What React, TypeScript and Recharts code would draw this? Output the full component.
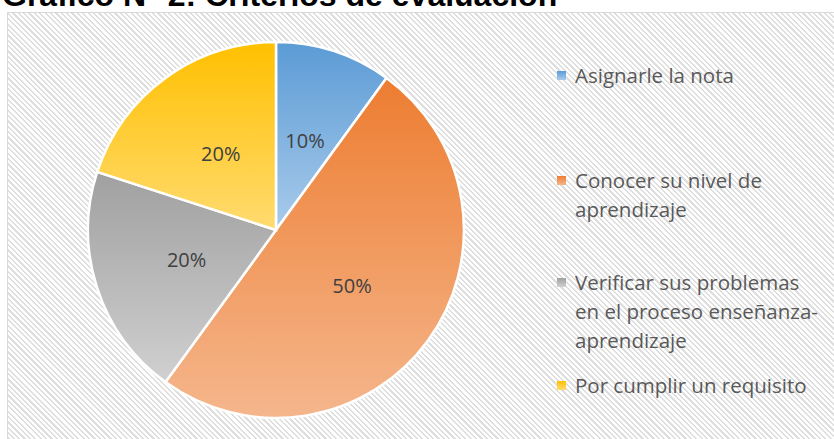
import { PieChart, Pie, Cell, Legend } from "recharts";

const categories = [
  "Asignarle la nota",
  "Conocer su nivel de aprendizaje",
  "Verificar sus problemas en el proceso enseñanza-aprendizaje",
  "Por cumplir un requisito",
];
const percents = [10, 50, 20, 20];
const labels = ["10%", "50%", "20%", "20%"];

const gradients = [
  ["#5b9bd5", "#a9cbeb"],
  ["#ed7d31", "#f5b68c"],
  ["#a0a0a0", "#d0d0d0"],
  ["#ffc000", "#ffdb70"],
];

const data = categories.map((name, i) => ({ name, value: percents[i], label: labels[i] }));

const RADIAN = Math.PI / 180;

const renderLabel = (props: any) => {
  const { cx, cy, midAngle, outerRadius, index } = props;
  const r = outerRadius * 0.5;
  const x = cx + r * Math.cos(-midAngle * RADIAN);
  const y = cy + r * Math.sin(-midAngle * RADIAN);
  return (
    <text x={x} y={y} fill="#404040" fontSize={20} fontFamily="Open Sans" textAnchor="middle" dominantBaseline="central">
      {labels[index]}
    </text>
  );
};

// legend items placed like the excel one
const legendTops = [61, 166, 268, 371];

const renderLegend = () => (
  <div style={{ position: "relative", width: 270, height: 400 }}>
    {categories.map((c, i) => (
      <div key={c} style={{ position: "absolute", left: 0, top: legendTops[i], display: "flex", alignItems: "flex-start" }}>
        <div
          style={{
            width: 9,
            height: 9,
            marginTop: 10,
            marginRight: 9,
            background: `linear-gradient(${gradients[i][0]}, ${gradients[i][1]})`,
          }}
        />
        <div style={{ width: 252, fontFamily: "Open Sans", fontSize: 20.5, lineHeight: "29px", color: "#595959" }}>{c}</div>
      </div>
    ))}
  </div>
);

export default function App() {
  return (
    <div style={{ position: "fixed", left: 0, top: 0, width: 834, height: 439, overflow: "hidden", background: "#fff" }}>
      <div
        style={{
          position: "absolute",
          left: 7,
          top: 12,
          width: 840,
          height: 440,
          border: "1px solid #d9d9d9",
          background: "repeating-linear-gradient(45deg, #ffffff 0px, #ffffff 2.2px, #dedede 2.2px, #dedede 3.8px)",
        }}
      />
      <div
        style={{
          position: "absolute",
          left: 2,
          top: -23,
          fontFamily: "Liberation Sans, Arial",
          fontWeight: "bold",
          fontSize: 32,
          color: "#000",
          whiteSpace: "nowrap",
        }}
      >
        Gráfico N° 2: Criterios de evaluación
      </div>
      <div style={{ position: "absolute", left: 0, top: 0 }}>
        <PieChart width={834} height={439}>
          <defs>
            {gradients.map((g, i) => (
              <linearGradient key={i} id={`grad${i}`} x1="0" y1="0" x2="0" y2="1">
                <stop offset="0%" stopColor={g[0]} />
                <stop offset="100%" stopColor={g[1]} />
              </linearGradient>
            ))}
          </defs>
          <Pie
            data={data}
            dataKey="value"
            nameKey="name"
            cx={271}
            cy={225}
            outerRadius={188}
            startAngle={90}
            endAngle={-270}
            stroke="#ffffff"
            strokeWidth={2.5}
            label={renderLabel}
            labelLine={false}
            isAnimationActive={false}
          >
            {data.map((d, i) => (
              <Cell key={d.name} fill={`url(#grad${i})`} />
            ))}
          </Pie>
          <Legend
            content={renderLegend}
            wrapperStyle={{ position: "absolute", left: 557, top: 0, width: 270, height: 400 }}
          />
        </PieChart>
      </div>
    </div>
  );
}
